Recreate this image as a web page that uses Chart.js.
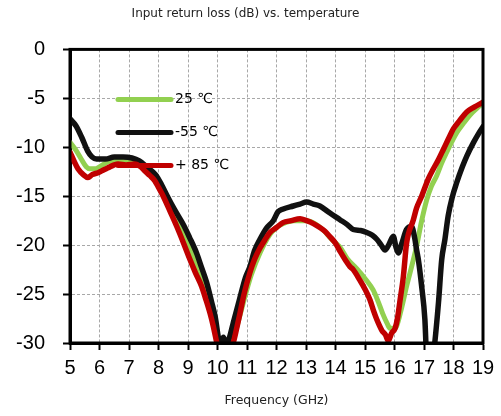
<!DOCTYPE html>
<html>
<head>
<meta charset="utf-8">
<script src="https://cdn.jsdelivr.net/npm/chart.js@4.4.1/dist/chart.umd.min.js"></script>
<style>
  html, body { margin: 0; padding: 0; background: #fff; }
</style>
</head>
<body>
<canvas id="rlChart" width="501" height="416"></canvas>
<script>
// 25 C
const freq25 = [5.0, 5.2, 5.38, 5.55, 5.67, 5.85, 5.95, 6.29, 6.63, 6.9, 7.19, 7.45, 7.64, 7.85, 8.1, 8.3, 8.62, 8.9, 9.15, 9.35, 9.55, 9.75, 9.9, 10.05, 10.2, 10.4, 10.55, 10.75, 11.0, 11.15, 11.44, 11.78, 12.0, 12.22, 12.6, 13.02, 13.3, 13.6, 13.9, 14.15, 14.4, 14.72, 15.0, 15.28, 15.45, 15.6, 15.75, 15.85, 16.0, 16.07, 16.25, 16.41, 16.58, 16.75, 16.9, 17.09, 17.25, 17.43, 17.6, 17.77, 17.95, 18.11, 18.35, 18.56, 18.8, 19.0];
const loss25 = [-9.5, -10.3, -11.2, -12.0, -12.2, -12.2, -12.1, -11.5, -11.4, -11.4, -11.5, -12.0, -12.4, -13.2, -14.3, -15.5, -17.5, -19.2, -21.0, -22.6, -24.5, -26.5, -28.0, -30.0, -31.0, -31.0, -29.5, -27.3, -24.5, -23.0, -20.8, -18.9, -18.2, -17.8, -17.5, -17.5, -17.8, -18.5, -19.5, -20.2, -21.4, -22.4, -23.4, -24.6, -25.8, -27.0, -28.0, -28.5, -28.5, -28.3, -26.3, -24.2, -22.2, -20.1, -17.8, -15.4, -14.0, -12.9, -11.6, -10.5, -9.4, -8.5, -7.5, -6.7, -6.0, -5.5];

// -55 C
const freqM55 = [5.0, 5.2, 5.4, 5.6, 5.75, 5.9, 6.2, 6.5, 6.8, 7.1, 7.35, 7.6, 7.9, 8.1, 8.3, 8.55, 8.84, 9.05, 9.29, 9.45, 9.63, 9.8, 9.92, 10.05, 10.12, 10.2, 10.3, 10.4, 10.53, 10.75, 10.95, 11.1, 11.25, 11.44, 11.65, 11.89, 12.05, 12.23, 12.57, 12.8, 13.02, 13.25, 13.47, 13.8, 14.15, 14.4, 14.6, 14.85, 15.06, 15.25, 15.4, 15.55, 15.68, 15.8, 15.96, 16.05, 16.13, 16.25, 16.41, 16.58, 16.68, 16.75, 16.81, 16.92, 17.03, 17.08, 17.2, 17.33, 17.49, 17.6, 17.71, 17.82, 17.95, 18.11, 18.3, 18.45, 18.68, 18.85, 19.0];
const lossM55 = [-7.1, -7.8, -9.0, -10.4, -11.0, -11.2, -11.2, -11.0, -11.0, -11.1, -11.4, -12.0, -12.8, -13.8, -15.0, -16.4, -17.9, -19.2, -20.8, -22.2, -23.8, -25.8, -27.3, -29.8, -30.5, -29.4, -30.2, -29.5, -28.0, -25.5, -23.3, -22.2, -20.6, -19.4, -18.3, -17.5, -16.6, -16.3, -16.0, -15.8, -15.6, -15.8, -16.0, -16.7, -17.4, -17.9, -18.4, -18.5, -18.7, -19.0, -19.4, -20.0, -20.5, -20.0, -19.1, -20.2, -20.8, -19.8, -18.4, -18.1, -19.2, -20.5, -21.5, -24.2, -27.6, -31.0, -34.0, -31.0, -25.9, -21.5, -19.4, -17.0, -15.2, -13.6, -12.0, -10.9, -9.5, -8.6, -7.9];

// +85 C
const freqP85 = [5.0, 5.15, 5.27, 5.45, 5.61, 5.75, 5.95, 6.15, 6.29, 6.5, 6.63, 6.9, 7.19, 7.4, 7.53, 7.71, 7.87, 8.0, 8.16, 8.4, 8.62, 8.85, 9.07, 9.25, 9.46, 9.6, 9.75, 9.85, 9.97, 10.05, 10.4, 10.54, 10.65, 10.76, 10.9, 11.1, 11.25, 11.44, 11.6, 11.78, 12.0, 12.22, 12.5, 12.8, 13.02, 13.25, 13.47, 13.65, 13.8, 14.0, 14.15, 14.35, 14.49, 14.6, 14.83, 15.0, 15.17, 15.3, 15.4, 15.57, 15.7, 15.79, 15.9, 16.02, 16.1, 16.19, 16.3, 16.41, 16.64, 16.75, 16.92, 17.15, 17.32, 17.5, 17.66, 17.85, 18.0, 18.2, 18.45, 18.7, 19.0];
const lossP85 = [-10.5, -11.5, -12.2, -12.8, -13.1, -12.8, -12.6, -12.3, -12.1, -11.8, -11.7, -11.8, -11.7, -12.0, -12.4, -12.9, -13.4, -14.1, -15.0, -16.6, -18.1, -19.8, -21.5, -22.8, -24.2, -25.5, -27.0, -28.2, -29.9, -31.0, -31.0, -29.9, -28.5, -27.0, -25.0, -22.8, -21.5, -20.3, -19.5, -18.7, -18.2, -17.7, -17.5, -17.3, -17.5, -17.8, -18.2, -18.6, -19.1, -19.8, -20.6, -21.6, -22.2, -22.5, -23.6, -24.5, -25.6, -26.8, -27.6, -28.7, -29.2, -29.8, -29.0, -28.5, -27.5, -25.6, -23.2, -19.8, -17.4, -16.2, -15.0, -13.2, -12.2, -11.2, -10.2, -9.0, -8.1, -7.3, -6.4, -5.9, -5.4];

const xTicks = [5, 6, 7, 8, 9, 10, 11, 12, 13, 14, 15, 16, 17, 18, 19];
const yTicks = [0, -5, -10, -15, -20, -25, -30];

function toPoints(xs, ys) {
    return xs.map((x, i) => ({ x: x, y: ys[i] }));
}

// thick frame round the plot + legend drawn inside the plot
const framePlugin = {
    id: 'frame',
    afterDatasetsDraw(chart) {
        const { ctx, chartArea: a } = chart;
        ctx.save();
        ctx.strokeStyle = '#000';
        ctx.lineWidth = 3;
        ctx.strokeRect(a.left, a.top, a.right - a.left, a.bottom - a.top);

        const rows = [50, 83, 116];
        chart.data.datasets.forEach((ds, i) => {
            const y = a.top + rows[i];
            ctx.beginPath();
            ctx.lineCap = 'round';
            ctx.lineWidth = 5;
            ctx.strokeStyle = ds.borderColor;
            ctx.moveTo(a.left + 48, y);
            ctx.lineTo(a.left + 101, y);
            ctx.stroke();
            ctx.fillStyle = '#000';
            ctx.font = '14px "DejaVu Sans"';
            ctx.textBaseline = 'middle';
            ctx.fillText(ds.label, a.left + 105, y);
        });
        ctx.restore();
    }
};

const gridOpts = {
    color: '#a8a8a8',
    tickColor: '#000',
    tickWidth: 2,
    tickLength: 7,
    tickBorderDash: []
};

const ctx = document.getElementById('rlChart').getContext('2d');
const rlChart = new Chart(ctx, {
    type: 'line',
    data: {
        datasets: [
            {
                label: '25 \u2103',
                data: toPoints(freq25, loss25),
                borderColor: '#92d050',
                borderWidth: 5,
                order: 3
            },
            {
                label: '-55 \u2103',
                data: toPoints(freqM55, lossM55),
                borderColor: '#111111',
                borderWidth: 5.5,
                order: 2
            },
            {
                label: '+ 85 \u2103',
                data: toPoints(freqP85, lossP85),
                borderColor: '#c00000',
                borderWidth: 5.5,
                order: 1
            }
        ]
    },
    options: {
        responsive: false,
        animation: false,
        clip: 0,
        layout: { padding: { left: 8, right: 18, top: 0, bottom: 0 } },
        elements: {
            point: { radius: 0 },
            line: { tension: 0.3, cubicInterpolationMode: 'monotone', borderCapStyle: 'round', borderJoinStyle: 'round' }
        },
        plugins: {
            legend: { display: false },
            tooltip: { enabled: false },
            title: {
                display: true,
                text: 'Input return loss (dB) vs. temperature',
                color: '#222',
                font: { family: 'DejaVu Sans', size: 12, weight: 'normal' },
                padding: { top: 7, bottom: 28 }
            }
        },
        scales: {
            x: {
                type: 'linear',
                min: 5,
                max: 19,
                afterBuildTicks: s => { s.ticks = xTicks.map(v => ({ value: v })); },
                afterFit: s => { s.height = 73; },
                ticks: {
                    autoSkip: false,
                    maxRotation: 0,
                    color: '#000',
                    padding: 6,
                    font: { family: 'Liberation Sans', size: 20 }
                },
                grid: gridOpts,
                border: { color: '#000', width: 3, dash: [3, 2] },
                title: {
                    display: true,
                    text: 'Frequency (GHz)',
                    color: '#222',
                    font: { family: 'DejaVu Sans', size: 12.5 },
                    padding: { top: 0, bottom: 8 }
                }
            },
            y: {
                min: -30,
                max: 0,
                afterBuildTicks: s => { s.ticks = yTicks.map(v => ({ value: v })); },
                afterFit: s => { s.width = 62; },
                ticks: {
                    color: '#000',
                    padding: 18,
                    font: { family: 'Liberation Sans', size: 20 }
                },
                grid: gridOpts,
                border: { color: '#000', width: 3, dash: [3, 2] }
            }
        }
    },
    plugins: [framePlugin]
});
</script>
</body>
</html>
